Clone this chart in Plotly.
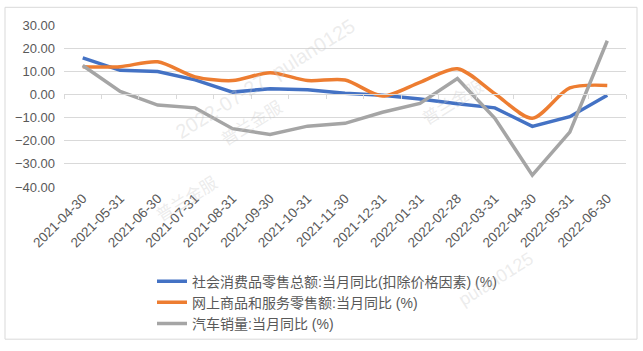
import plotly.graph_objects as go

dates = ["2021-04-30", "2021-05-31", "2021-06-30", "2021-07-31", "2021-08-31",
         "2021-09-30", "2021-10-31", "2021-11-30", "2021-12-31", "2022-01-31",
         "2022-02-28", "2022-03-31", "2022-04-30", "2022-05-31", "2022-06-30"]
retail = [15.8, 10.4, 9.9, 6.3, 1.0, 2.5, 2.0, 0.5, -0.4, -2.0, -4.0, -5.8, -13.8, -9.6, -0.4]
online = [12.0, 12.0, 14.1, 7.6, 6.0, 9.4, 6.0, 6.2, -0.7, 5.2, 11.1, 0.3, -10.3, 2.8, 3.9]
autos = [12.5, 1.3, -4.6, -5.8, -14.8, -17.3, -13.7, -12.5, -7.7, -3.9, 6.9, -10.3, -34.9, -16.3, 23.2]
names = ["社会消费品零售总额:当月同比(扣除价格因素) (%)",
         "网上商品和服务零售额:当月同比 (%)",
         "汽车销量:当月同比 (%)"]
y_ticks = [30, 20, 10, 0, -10, -20, -30, -40]

W, H = 643, 351
L, R, T, B = 64, 17, 25, 161
pw, ph = W - L - R, H - T - B
def px(x):
    return (x - L) / pw
def py(y):
    return (H - B - y) / ph

FONT = "Liberation Sans, Noto Sans CJK SC, sans-serif"
TXT = "#595959"
GRID = "#d9d9d9"

fig = go.Figure()
fig.add_trace(go.Scatter(x=dates, y=retail, name=names[0], mode="lines",
                         line=dict(color="#4472C4", width=3.5)))
fig.add_trace(go.Scatter(x=dates, y=online, name=names[1], mode="lines",
                         line=dict(color="#ED7D31", width=3.5, shape="spline", smoothing=0.8)))
fig.add_trace(go.Scatter(x=dates, y=autos, name=names[2], mode="lines",
                         line=dict(color="#A5A5A5", width=3.5)))
# invisible trace for the zero-crossing category axis ticks
fig.add_trace(go.Scatter(x=dates, y=[0] * len(dates), xaxis="x2", mode="lines",
                         line=dict(width=0), showlegend=False, hoverinfo="skip"))

zero_pos = 40 / 70
fig.update_layout(
    width=W, height=H,
    margin=dict(l=L, r=R, t=T, b=B),
    paper_bgcolor="white", plot_bgcolor="white",
    font=dict(family=FONT, color=TXT, size=12),
    xaxis=dict(type="category", tickangle=-45, showgrid=False, showline=False,
               ticks="", tickfont=dict(size=13.5, color=TXT), range=[-0.5, 14.5]),
    xaxis2=dict(type="category", overlaying="x", anchor="free", position=zero_pos,
                side="bottom", showticklabels=False, showline=True, linecolor=GRID,
                linewidth=1, ticks="outside", ticklen=4, tickcolor=GRID,
                tickson="boundaries", showgrid=False, range=[-0.5, 14.5]),
    yaxis=dict(range=[-40, 30], tickvals=y_ticks, tickformat=".2f",
               showgrid=True, gridcolor=GRID, gridwidth=1, zeroline=False,
               ticks="", tickfont=dict(size=13, color=TXT), ticklabelstandoff=8),
    legend=dict(x=px(152), y=py(270), xanchor="left", yanchor="top",
                orientation="v", font=dict(size=14, color=TXT),
                bgcolor="rgba(0,0,0,0)", itemwidth=30, tracegroupgap=0),
    showlegend=True,
)

# outer border
fig.add_shape(type="rect", xref="paper", yref="paper",
              x0=px(5), x1=px(637), y0=py(345), y1=py(7),
              line=dict(color=GRID, width=1), fillcolor="rgba(0,0,0,0)", layer="below")

# watermarks
wm = dict(color="rgba(200,200,200,0.35)", family=FONT)
marks = [("2022-07-27  pulan0125", 265, 80, 20), ("普兰金服", 252, 155, 17),
         ("普兰金服", 490, 75, 17), ("普兰金服", 150, 232, 17),
         ("pulan0125", 540, 318, 18)]
for text, x, y, s in marks:
    fig.add_annotation(text=text, xref="paper", yref="paper", x=px(x), y=py(y),
                       showarrow=False, textangle=-32, font=dict(size=s, **wm))

fig.write_html("out.html")
